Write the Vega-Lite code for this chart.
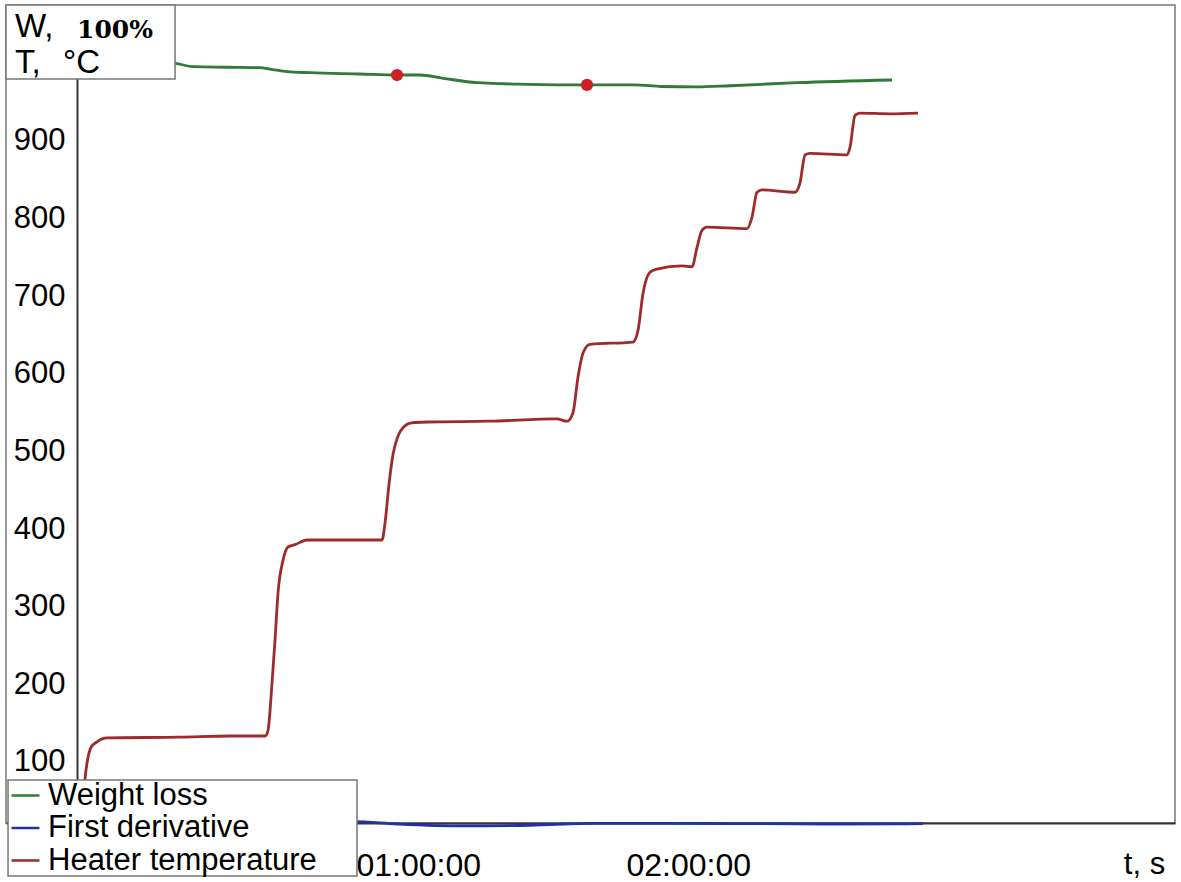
{
  "$schema": "https://vega.github.io/schema/vega-lite/v6.json",
  "description": "Thermogravimetric run: weight loss, first derivative and heater temperature",
  "width": 1169,
  "height": 818,
  "autosize": {"type": "none"},
  "padding": {"left": 6, "top": 5, "right": 6, "bottom": 59},
  "background": "white",
  "datasets": {
    "curves": [
      {"t": 0, "v": 1005, "series": "Weight loss"},
      {"t": 1267, "v": 1000, "series": "Weight loss"},
      {"t": 1507, "v": 995.7, "series": "Weight loss"},
      {"t": 1960, "v": 995, "series": "Weight loss"},
      {"t": 2400, "v": 994.4, "series": "Weight loss"},
      {"t": 2533, "v": 992.7, "series": "Weight loss"},
      {"t": 2760, "v": 989.3, "series": "Weight loss"},
      {"t": 3067, "v": 988, "series": "Weight loss"},
      {"t": 3733, "v": 986.3, "series": "Weight loss"},
      {"t": 4227, "v": 985, "series": "Weight loss"},
      {"t": 4533, "v": 985, "series": "Weight loss"},
      {"t": 4840, "v": 980.8, "series": "Weight loss"},
      {"t": 5293, "v": 975.1, "series": "Weight loss"},
      {"t": 5960, "v": 973, "series": "Weight loss"},
      {"t": 6760, "v": 972.2, "series": "Weight loss"},
      {"t": 7400, "v": 972.3, "series": "Weight loss"},
      {"t": 7750, "v": 970.2, "series": "Weight loss"},
      {"t": 8227, "v": 969.6, "series": "Weight loss"},
      {"t": 8667, "v": 971.2, "series": "Weight loss"},
      {"t": 9560, "v": 975.1, "series": "Weight loss"},
      {"t": 10827, "v": 978.6, "series": "Weight loss"},
      {"t": 0, "v": 22.5, "series": "First derivative"},
      {"t": 1600, "v": 22.5, "series": "First derivative"},
      {"t": 3640, "v": 23.1, "series": "First derivative"},
      {"t": 4227, "v": 20.1, "series": "First derivative"},
      {"t": 5107, "v": 17.6, "series": "First derivative"},
      {"t": 6000, "v": 18.5, "series": "First derivative"},
      {"t": 6893, "v": 21, "series": "First derivative"},
      {"t": 7773, "v": 21, "series": "First derivative"},
      {"t": 10000, "v": 20.1, "series": "First derivative"},
      {"t": 11240, "v": 20.5, "series": "First derivative"},
      {"t": 0, "v": 23, "series": "Heater temperature"},
      {"t": 40, "v": 51, "series": "Heater temperature"},
      {"t": 67, "v": 79, "series": "Heater temperature"},
      {"t": 147, "v": 119, "series": "Heater temperature"},
      {"t": 227, "v": 126, "series": "Heater temperature"},
      {"t": 360, "v": 131, "series": "Heater temperature"},
      {"t": 1333, "v": 132, "series": "Heater temperature"},
      {"t": 2000, "v": 133.5, "series": "Heater temperature"},
      {"t": 2467, "v": 133.5, "series": "Heater temperature"},
      {"t": 2507, "v": 141, "series": "Heater temperature"},
      {"t": 2560, "v": 202, "series": "Heater temperature"},
      {"t": 2600, "v": 257, "series": "Heater temperature"},
      {"t": 2640, "v": 318, "series": "Heater temperature"},
      {"t": 2707, "v": 360, "series": "Heater temperature"},
      {"t": 2773, "v": 377, "series": "Heater temperature"},
      {"t": 2867, "v": 380, "series": "Heater temperature"},
      {"t": 3027, "v": 386, "series": "Heater temperature"},
      {"t": 4027, "v": 386, "series": "Heater temperature"},
      {"t": 4067, "v": 408, "series": "Heater temperature"},
      {"t": 4120, "v": 458, "series": "Heater temperature"},
      {"t": 4175, "v": 497, "series": "Heater temperature"},
      {"t": 4240, "v": 520, "series": "Heater temperature"},
      {"t": 4320, "v": 532, "series": "Heater temperature"},
      {"t": 4420, "v": 537, "series": "Heater temperature"},
      {"t": 4627, "v": 538, "series": "Heater temperature"},
      {"t": 5467, "v": 539, "series": "Heater temperature"},
      {"t": 6360, "v": 542, "series": "Heater temperature"},
      {"t": 6493, "v": 539, "series": "Heater temperature"},
      {"t": 6573, "v": 550, "series": "Heater temperature"},
      {"t": 6640, "v": 596, "series": "Heater temperature"},
      {"t": 6707, "v": 627, "series": "Heater temperature"},
      {"t": 6800, "v": 638, "series": "Heater temperature"},
      {"t": 7373, "v": 641, "series": "Heater temperature"},
      {"t": 7440, "v": 656, "series": "Heater temperature"},
      {"t": 7507, "v": 704, "series": "Heater temperature"},
      {"t": 7600, "v": 731, "series": "Heater temperature"},
      {"t": 7693, "v": 735, "series": "Heater temperature"},
      {"t": 8027, "v": 739, "series": "Heater temperature"},
      {"t": 8160, "v": 738, "series": "Heater temperature"},
      {"t": 8227, "v": 763, "series": "Heater temperature"},
      {"t": 8293, "v": 785, "series": "Heater temperature"},
      {"t": 8360, "v": 789, "series": "Heater temperature"},
      {"t": 8893, "v": 787, "series": "Heater temperature"},
      {"t": 8960, "v": 802, "series": "Heater temperature"},
      {"t": 9027, "v": 834, "series": "Heater temperature"},
      {"t": 9093, "v": 837, "series": "Heater temperature"},
      {"t": 9533, "v": 834, "series": "Heater temperature"},
      {"t": 9600, "v": 846, "series": "Heater temperature"},
      {"t": 9667, "v": 882, "series": "Heater temperature"},
      {"t": 9733, "v": 884, "series": "Heater temperature"},
      {"t": 10227, "v": 882, "series": "Heater temperature"},
      {"t": 10267, "v": 892, "series": "Heater temperature"},
      {"t": 10333, "v": 933, "series": "Heater temperature"},
      {"t": 10400, "v": 936, "series": "Heater temperature"},
      {"t": 10800, "v": 935, "series": "Heater temperature"},
      {"t": 11173, "v": 936, "series": "Heater temperature"}
    ],
    "picks": [
      {"t": 4227, "v": 985},
      {"t": 6760, "v": 972.2}
    ],
    "boxes": [
      {"name": "units", "t": -987, "t2": 1267, "v": 1075.2, "v2": 979.9},
      {"name": "legend", "t": -960, "t2": 3693, "v": 76.8, "v2": -46.9}
    ],
    "boxText": [
      {"t": -867, "v": 1034, "text": "W,"},
      {"t": -867, "v": 987.6, "text": "T,"},
      {"t": -227, "v": 987.6, "text": "°C"}
    ],
    "pctText": [
      {"t": -40, "v": 1032.7, "text": "100%"}
    ]
  },
  "encoding": {
    "x": {
      "field": "t",
      "type": "quantitative",
      "scale": {"domain": [-987, 14600], "nice": false, "zero": false},
      "axis": {
        "values": [3600, 7200],
        "labelExpr": "'0' + floor(datum.value / 3600) + ':00:00'",
        "labelAlign": "left",
        "labelOffset": 6,
        "labelBaseline": "alphabetic",
        "labelPadding": 52,
        "labelFontSize": 32,
        "labelColor": "black",
        "ticks": false,
        "tickSize": 0,
        "grid": false,
        "domain": true,
        "domainColor": "#333",
        "domainWidth": 2,
        "title": "t, s",
        "titleFontSize": 31,
        "titleFontWeight": "normal",
        "titleColor": "black",
        "titleX": 1138,
        "titleY": 50,
        "titleAlign": "center",
        "titleBaseline": "alphabetic"
      }
    },
    "y": {
      "field": "v",
      "type": "quantitative",
      "scale": {"domain": [21.4, 1075.2], "nice": false, "zero": false},
      "axis": {
        "values": [100, 200, 300, 400, 500, 600, 700, 800, 900],
        "offset": -71,
        "ticks": false,
        "tickSize": 0,
        "labelPadding": 12,
        "labelFontSize": 31,
        "labelColor": "black",
        "grid": false,
        "domainColor": "#333",
        "domainWidth": 2,
        "title": null
      }
    }
  },
  "layer": [
    {
      "data": {"name": "curves"},
      "mark": {"type": "line", "strokeWidth": 2.8, "interpolate": "monotone"},
      "encoding": {
        "color": {
          "field": "series",
          "type": "nominal",
          "scale": {
            "domain": ["Weight loss", "First derivative", "Heater temperature"],
            "range": ["#2f7a35", "#2233a0", "#9e2a2b"]
          },
          "legend": {
            "title": null,
            "orient": "none",
            "legendX": 4,
            "legendY": 775,
            "symbolType": "stroke",
            "symbolSize": 784,
            "symbolStrokeWidth": 2.5,
            "labelFontSize": 31,
            "labelColor": "black",
            "labelOffset": 7,
            "labelLimit": 400,
            "rowPadding": 0.5,
            "padding": 0
          }
        }
      }
    },
    {
      "data": {"name": "picks"},
      "mark": {"type": "circle", "size": 150, "color": "#cc1f26", "opacity": 1}
    },
    {
      "data": {"name": "boxes"},
      "mark": {"type": "rect", "fill": "white", "stroke": "#777", "strokeWidth": 1.5},
      "encoding": {"x2": {"field": "t2"}, "y2": {"field": "v2"}}
    },
    {
      "data": {"name": "boxText"},
      "mark": {"type": "text", "align": "left", "baseline": "alphabetic", "fontSize": 33, "color": "black"},
      "encoding": {"text": {"field": "text"}}
    },
    {
      "data": {"name": "pctText"},
      "mark": {"type": "text", "align": "left", "baseline": "alphabetic", "font": "DejaVu Serif", "fontWeight": "bold", "fontSize": 25, "color": "black"},
      "encoding": {"text": {"field": "text"}}
    }
  ],
  "config": {
    "font": "Liberation Sans",
    "view": {"stroke": "#777", "strokeWidth": 1.5}
  }
}
